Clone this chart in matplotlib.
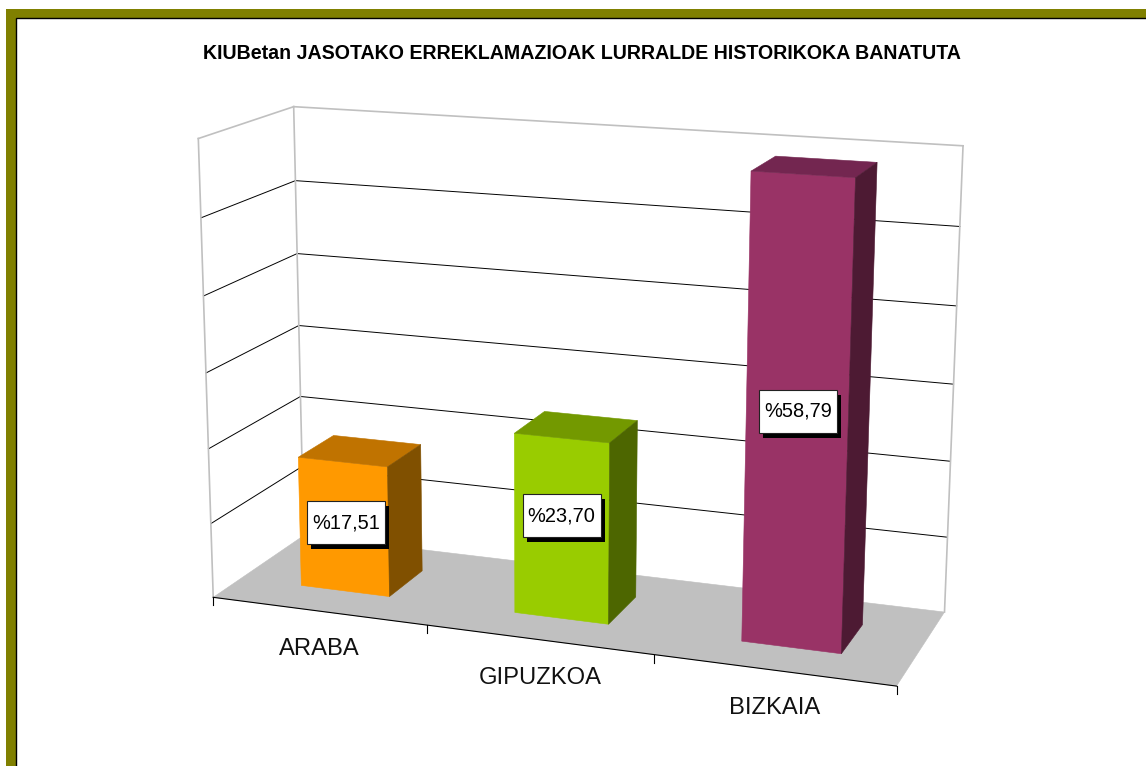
# 3D style column chart, drawn in pixel space through a fitted perspective projection
import numpy as np
import matplotlib

matplotlib.use("Agg")
import matplotlib.pyplot as plt
from matplotlib.patches import Polygon, Rectangle

plt.rcParams["font.family"] = ["Liberation Sans", "DejaVu Sans"]

title = "KIUBetan JASOTAKO ERREKLAMAZIOAK LURRALDE HISTORIKOKA BANATUTA"
categories = ["ARABA", "GIPUZKOA", "BIZKAIA"]
values = [17.51, 23.70, 58.79]
value_labels = ["%17,51", "%23,70", "%58,79"]
axis_max = 60
axis_step = 10

front_colors = ["#FF9900", "#99CC00", "#993366"]
top_colors = ["#C07300", "#739900", "#732650"]
side_colors = ["#805000", "#4D6600", "#4D1A33"]
label_nudge = [(2, -4), (0, -13), (1, -5)]

W, H = 1146, 766
fig = plt.figure(figsize=(W / 100, H / 100), dpi=100)
ax = fig.add_axes([0, 0, 1, 1])
ax.set_xlim(0, W)
ax.set_ylim(H, 0)
ax.axis("off")

# box corners in the picture, (x, depth, z) -> pixel, used to fit the projection
anchors = [
    ((0, 0, 0), (214, 597)),
    ((1, 0, 0), (896, 687)),
    ((0, 1, 0), (303, 536)),
    ((1, 1, 0), (945, 611)),
    ((0, 0, 1), (198, 138)),
    ((0, 1, 1), (294, 107)),
    ((1, 1, 1), (963, 146)),
]
rows = []
rhs = []
for (x, d, z), (u, v) in anchors:
    rows.append([x, d, z, 1, 0, 0, 0, 0, -u * x, -u * d, -u * z])
    rows.append([0, 0, 0, 0, x, d, z, 1, -v * x, -v * d, -v * z])
    rhs += [u, v]
m = np.linalg.lstsq(np.array(rows, float), np.array(rhs, float), rcond=None)[0]
m = np.append(m, 1).reshape(3, 4)


def project(x, d, value):
    p = m @ np.array([x, d, value / axis_max, 1.0])
    return p[0] / p[2], p[1] / p[2]


def face(points, color, zorder):
    pts = [project(*p) for p in points]
    ax.add_patch(Polygon(pts, closed=True, fc=color, ec=color, lw=0.4, zorder=zorder))


def line(a, b, color, lw, zorder=2):
    pa, pb = project(*a), project(*b)
    ax.plot([pa[0], pb[0]], [pa[1], pb[1]], color=color, lw=lw, zorder=zorder)


# outer frame, cut off by the right and bottom of the picture
ax.add_patch(Rectangle((6, 9), W, H, fc="#808000", ec="none", zorder=0))
ax.add_patch(Rectangle((15.5, 17.5), W, H, fc="white", ec="black", lw=1, zorder=0.5))

ax.text(582, 53.5, title, fontsize=14.1, fontweight="bold", ha="center", va="center")

# floor
face([(0, 0, 0), (1, 0, 0), (1, 1, 0), (0, 1, 0)], "#C0C0C0", 1)

# gridlines on the walls
for level in np.arange(axis_step, axis_max, axis_step):
    line((0, 0, level), (0, 1, level), "black", 0.7)
    line((0, 1, level), (1, 1, level), "black", 0.7)

# wall outlines
wall_grey = "#C0C0C0"
line((0, 0, 0), (0, 0, axis_max), wall_grey, 1.2)
line((0, 1, 0), (0, 1, axis_max), wall_grey, 1.2)
line((1, 1, 0), (1, 1, axis_max), wall_grey, 1.2)
line((0, 0, axis_max), (0, 1, axis_max), wall_grey, 1.2)
line((0, 1, axis_max), (1, 1, axis_max), wall_grey, 1.2)

# front axis with ticks
n = len(categories)
line((0, 0, 0), (1, 0, 0), "black", 0.8, zorder=3)
for i in range(n + 1):
    px, py = project(i / n, 0, 0)
    ax.plot([px, px], [py, py + 8], color="black", lw=0.8, zorder=3)

# bars: gap width about 140, gap depth 150
bar_w = 0.42 / n
d0, d1 = 0.3, 0.7
for i in range(n):
    c = (i + 0.5) / n
    x0, x1 = c - bar_w / 2, c + bar_w / 2
    v = values[i]
    face([(x0, d0, 0), (x1, d0, 0), (x1, d0, v), (x0, d0, v)], front_colors[i], 5)
    face([(x0, d0, v), (x1, d0, v), (x1, d1, v), (x0, d1, v)], top_colors[i], 5)
    face([(x1, d0, 0), (x1, d1, 0), (x1, d1, v), (x1, d0, v)], side_colors[i], 5)

    # value label box with hard shadow
    px, py = project(c, d0, v / 2)
    px += label_nudge[i][0]
    py += label_nudge[i][1]
    bw, bh = 78, 43
    ax.add_patch(Rectangle((px - bw / 2 + 4, py - bh / 2 + 5), bw, bh, fc="black", ec="none", zorder=6))
    ax.add_patch(Rectangle((px - bw / 2, py - bh / 2), bw, bh, fc="white", ec="#222222", lw=0.8, zorder=7))
    ax.text(px, py, value_labels[i], fontsize=14.4, ha="center", va="center", zorder=8)

    # category label
    lx, ly = project(c, 0, 0)
    ax.text(lx + 1, ly + 38, categories[i], fontsize=17.1, ha="center", va="center", color="#111111")

fig.savefig("out.png", dpi=100)
